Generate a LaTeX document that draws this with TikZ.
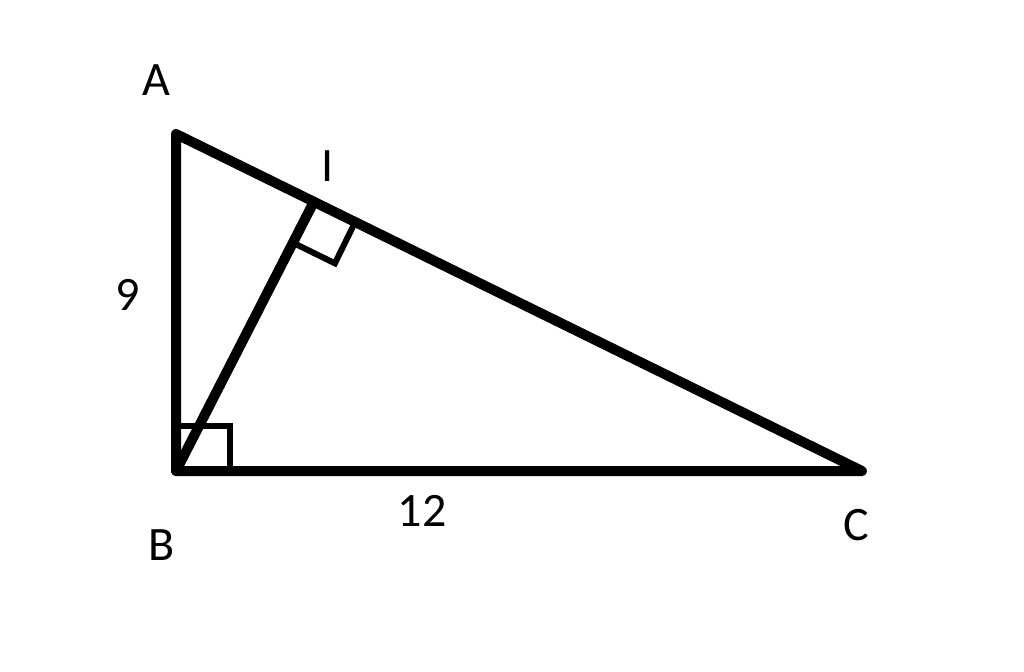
\documentclass[tikz,border=0pt]{standalone}
\usepackage{fontspec}
\setmainfont{Carlito}
\usetikzlibrary{calc}

\begin{document}
\begin{tikzpicture}[x=0.5pt,y=-0.5pt,
    side/.style={
% The stroke:
line width=5pt,
% The ends:
line join=round, line cap=round,
},
    mark box/.style={
% The stroke:
line width=3pt,
},
    label text/.style={
% The text:
font=\fontsize{24}{28}\selectfont,
inner sep=0pt,
},
]
  \useasboundingbox (0,0) rectangle (1024,671);
  \coordinate (A) at (176, 134);
  \coordinate (B) at (176, 471);
  \coordinate (C) at (862, 471);
  \coordinate (I) at ($(A)!0.201!(C)$);
  \coordinate (Ic) at ($(I)!23pt!(C)$);
  \coordinate (Ib) at ($(I)!23pt!-90:(C)$);
  \node[label text] (lA) at (156, 80) {A};
  \node[label text] (lI) at (328, 166) {I};
  \node[label text] (l9) at (128, 295) {9};
  \node[label text] (l12) at (422, 511) {12};
  \node[label text] (lB) at (162, 545) {B};
  \node[label text] (lC) at (856, 525) {C};
  \draw[mark box] ($(B)+(0,-45)$) -| ($(B)+(54,0)$);
  \draw[mark box] (Ic) -- ($(Ic)+(Ib)-(I)$) -- (Ib);
  \draw[side] (A) -- (B) -- (C) -- cycle;
  \draw[side] (B) -- (I);

\end{tikzpicture}
\end{document}
